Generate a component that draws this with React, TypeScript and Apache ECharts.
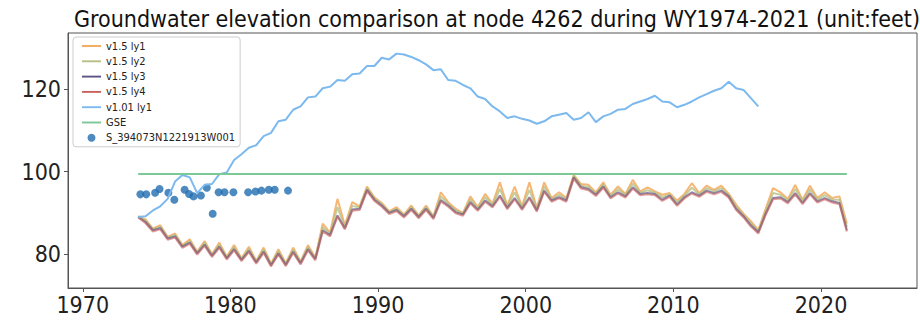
import React, { useEffect, useRef } from "react";
import * as echarts from "echarts";

const TITLE = "Groundwater elevation comparison at node 4262 during WY1974-2021 (unit:feet)";
const xTicks = [1970, 1980, 1990, 2000, 2010, 2020];
const yTicks = [80, 100, 120];

// semi-annual samples starting Oct 1973
const START_YEAR = 1973.75;
const STEP = 0.5;

const ly1 = [89.2, 88.4, 86.2, 87.0, 84.2, 85.0, 82.2, 83.6, 80.6, 83.2, 80.0, 82.8, 79.4, 82.2, 79.0, 81.8, 78.4, 81.6, 77.7, 81.2, 77.8, 81.6, 78.2, 82.2, 79.2, 87.4, 85.2, 93.4, 87.0, 92.6, 91.6, 96.4, 93.8, 92.4, 90.4, 91.4, 89.6, 91.8, 89.4, 91.8, 89.2, 95.0, 92.6, 91.0, 90.0, 94.0, 91.4, 94.6, 92.2, 97.4, 91.8, 96.4, 91.6, 97.4, 91.2, 97.4, 93.6, 95.0, 93.6, 99.2, 97.0, 96.8, 95.0, 97.4, 94.4, 96.4, 94.6, 98.0, 95.2, 96.2, 95.2, 94.4, 94.8, 93.0, 94.6, 97.2, 94.8, 96.6, 95.6, 96.6, 94.6, 92.0, 89.8, 88.0, 85.8, 91.0, 96.0, 95.0, 93.4, 96.8, 93.2, 96.6, 93.6, 95.0, 93.6, 94.0, 87.4];
const ly2 = [89.1, 88.1, 86.0, 86.7, 84.0, 84.7, 82.0, 83.2, 80.4, 82.8, 79.8, 82.3, 79.2, 81.7, 78.8, 81.3, 78.2, 81.1, 77.5, 80.7, 77.6, 81.1, 78.0, 81.7, 79.0, 86.6, 84.9, 91.4, 86.6, 91.7, 91.3, 96.0, 93.5, 92.1, 90.2, 91.0, 89.4, 91.4, 89.2, 91.4, 89.0, 94.0, 92.2, 90.6, 89.8, 93.3, 91.1, 93.8, 91.9, 95.8, 91.5, 95.0, 91.3, 95.6, 90.9, 96.4, 93.3, 94.4, 93.3, 98.9, 96.6, 96.3, 94.7, 96.9, 94.1, 95.7, 94.3, 97.1, 94.9, 95.5, 94.9, 93.8, 94.5, 92.5, 94.2, 96.1, 94.5, 96.0, 95.2, 96.0, 94.3, 91.5, 89.5, 87.5, 85.6, 90.4, 94.8, 94.4, 93.0, 95.8, 92.8, 95.7, 93.2, 94.3, 93.2, 93.2, 86.6];
const ly3 = [89.0, 87.8, 85.8, 86.3, 83.8, 84.3, 81.8, 82.8, 80.2, 82.3, 79.6, 81.8, 79.0, 81.2, 78.6, 80.8, 78.0, 80.6, 77.3, 80.2, 77.4, 80.6, 77.8, 81.2, 78.8, 85.8, 84.6, 89.4, 86.3, 90.8, 91.0, 95.6, 93.2, 91.8, 90.0, 90.7, 89.2, 91.0, 89.0, 91.0, 88.8, 93.1, 91.8, 90.2, 89.6, 92.6, 90.8, 93.0, 91.6, 94.2, 91.2, 93.6, 91.0, 93.8, 90.6, 95.4, 93.0, 93.8, 93.0, 98.6, 96.2, 95.8, 94.4, 96.4, 93.8, 95.0, 94.0, 96.2, 94.6, 94.8, 94.6, 93.2, 94.2, 92.0, 93.8, 95.0, 94.2, 95.4, 94.8, 95.4, 94.0, 91.0, 89.2, 87.0, 85.3, 89.8, 93.6, 93.8, 92.6, 94.8, 92.4, 94.8, 92.8, 93.6, 92.8, 92.4, 85.8];
const ly4 = [88.9, 87.5, 85.5, 86.0, 83.5, 84.0, 81.5, 82.5, 79.9, 82.0, 79.3, 81.5, 78.7, 80.9, 78.3, 80.5, 77.7, 80.3, 77.0, 79.9, 77.1, 80.3, 77.5, 80.9, 78.5, 85.5, 84.3, 89.1, 86.0, 90.5, 90.7, 95.3, 92.9, 91.5, 89.7, 90.4, 88.9, 90.7, 88.7, 90.7, 88.5, 92.8, 91.5, 89.9, 89.3, 92.3, 90.5, 92.7, 91.3, 93.9, 90.9, 93.3, 90.7, 93.5, 90.3, 95.1, 92.7, 93.5, 92.7, 98.3, 95.9, 95.5, 94.1, 96.1, 93.5, 94.7, 93.7, 95.9, 94.3, 94.5, 94.3, 92.9, 93.9, 91.7, 93.5, 94.7, 93.9, 95.1, 94.5, 95.1, 93.7, 90.7, 88.9, 86.7, 85.0, 89.5, 93.3, 93.5, 92.3, 94.5, 92.1, 94.5, 92.5, 93.3, 92.5, 92.1, 85.5];
const v101 = [89.0, 89.2, 90.6, 91.6, 93.4, 97.6, 99.2, 98.6, 94.8, 96.8, 97.0, 99.4, 99.8, 102.8, 104.2, 105.8, 106.4, 108.6, 109.4, 112.2, 112.6, 115.0, 115.8, 118.0, 118.2, 120.2, 120.6, 122.2, 122.0, 123.6, 123.8, 125.6, 125.6, 127.6, 127.2, 128.6, 128.4, 127.8, 127.0, 126.0, 124.6, 124.8, 122.2, 122.0, 121.0, 120.2, 118.2, 117.6, 115.8, 114.6, 113.0, 113.4, 112.8, 112.4, 111.6, 112.2, 113.4, 113.8, 114.2, 112.6, 113.0, 114.4, 112.0, 113.4, 114.0, 115.0, 115.2, 116.4, 117.0, 117.6, 118.4, 117.0, 116.8, 115.6, 116.2, 117.0, 118.0, 118.8, 119.6, 120.2, 121.8, 120.2, 119.8, 117.8, 115.8];

const gseYears = [1973.75, 2021.75];
const gseValues = [99.4, 99.4];

const obsYears = [1973.9, 1974.3, 1974.9, 1975.2, 1975.8, 1976.2, 1976.9, 1977.2, 1977.5, 1978.0, 1978.4, 1978.8, 1979.2, 1979.6, 1980.2, 1981.2, 1981.7, 1982.1, 1982.6, 1983.0, 1983.9];
const obsValues = [94.5, 94.5, 94.9, 95.8, 94.9, 93.2, 95.6, 94.6, 94.0, 94.2, 96.1, 89.8, 95.0, 95.0, 95.0, 95.0, 95.2, 95.4, 95.6, 95.6, 95.4];

const FONT = "'DejaVu Sans Condensed', 'DejaVu Sans', sans-serif";
const LINE_ICON = "path://M0,0H20V2H0Z";

function toPairs(vals: number[]) {
  return vals.map((v, i) => [START_YEAR + i * STEP, v]);
}

function lineSeries(name: string, vals: number[], color: string, opacity: number) {
  return {
    type: "line",
    name,
    data: toPairs(vals),
    symbol: "none",
    showSymbol: false,
    lineStyle: { color, width: 2, opacity },
    itemStyle: { color },
  };
}

export default function App() {
  const ref = useRef<HTMLDivElement>(null);
  useEffect(() => {
    if (!ref.current) return;
    const chart = echarts.init(ref.current, null, { renderer: "svg" });
    chart.setOption({
      animation: false,
      backgroundColor: "#ffffff",
      title: {
        text: TITLE,
        left: 492,
        top: 2,
        textAlign: "center",
        textStyle: { fontFamily: FONT, fontSize: 23, fontWeight: "normal", color: "#111" },
      },
      grid: {
        left: 68,
        right: 3,
        top: 33,
        bottom: 35,
        show: true,
        borderColor: "#555",
        borderWidth: 1,
        backgroundColor: "#fff",
      },
      legend: {
        orient: "vertical",
        left: 73,
        top: 37,
        padding: [3, 5, 3, 9],
        itemGap: 3.3,
        itemWidth: 19,
        itemHeight: 8,
        backgroundColor: "rgba(255,255,255,0.85)",
        borderColor: "#ccc",
        borderWidth: 1,
        borderRadius: 3,
        lineStyle: { width: 2 },
        textStyle: { fontFamily: FONT, fontSize: 11, color: "#222", lineHeight: 12 },
        data: [
          { name: "v1.5 ly1", icon: LINE_ICON },
          { name: "v1.5 ly2", icon: LINE_ICON },
          { name: "v1.5 ly3", icon: LINE_ICON },
          { name: "v1.5 ly4", icon: LINE_ICON },
          { name: "v1.01 ly1", icon: LINE_ICON },
          { name: "GSE", icon: LINE_ICON },
          { name: "S_394073N1221913W001", icon: "circle" },
        ],
      },
      xAxis: {
        type: "value",
        min: 1969,
        max: 2026.5,
        splitLine: { show: false },
        axisLine: { show: true, onZero: false, lineStyle: { color: "#555" } },
        axisTick: { show: true, length: 4, customValues: xTicks, lineStyle: { color: "#555" } },
        axisLabel: {
          customValues: xTicks,
          formatter: (v: number) => String(v),
          fontFamily: FONT,
          fontSize: 23,
          color: "#222",
          margin: 5,
        },
      },
      yAxis: {
        type: "value",
        min: 71.8,
        max: 133.6,
        splitLine: { show: false },
        axisLine: { show: true, lineStyle: { color: "#555" } },
        axisTick: { show: true, length: 4, customValues: yTicks, lineStyle: { color: "#555" } },
        axisLabel: {
          customValues: yTicks,
          formatter: (v: number) => String(v),
          fontFamily: FONT,
          fontSize: 23,
          color: "#222",
          margin: 7,
        },
      },
      series: [
        lineSeries("v1.5 ly1", ly1, "#f5a95c", 0.85),
        lineSeries("v1.5 ly2", ly2, "#b7bf86", 0.8),
        lineSeries("v1.5 ly3", ly3, "#5b5486", 0.7),
        lineSeries("v1.5 ly4", ly4, "#c9615b", 0.6),
        lineSeries("v1.01 ly1", v101, "#7cb9ee", 1),
        {
          type: "line",
          name: "GSE",
          data: gseYears.map((y, i) => [y, gseValues[i]]),
          symbol: "none",
          showSymbol: false,
          lineStyle: { color: "#7cc896", width: 2 },
          itemStyle: { color: "#7cc896" },
        },
        {
          type: "scatter",
          name: "S_394073N1221913W001",
          data: obsYears.map((y, i) => [y, obsValues[i]]),
          symbol: "circle",
          symbolSize: 8,
          itemStyle: { color: "#1f6db0" },
        },
      ],
    });
    return () => chart.dispose();
  }, []);
  return <div ref={ref} style={{ width: 920, height: 323, position: "absolute", left: 0, top: 0 }} />;
}
